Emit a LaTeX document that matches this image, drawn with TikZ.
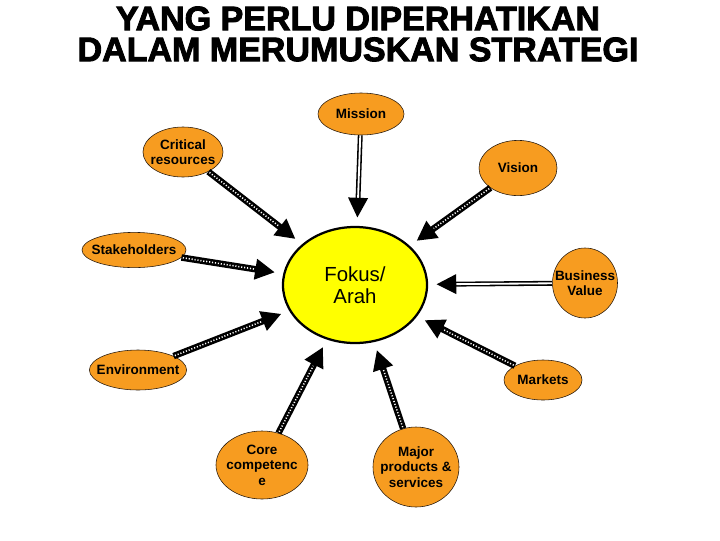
\documentclass[tikz,border=0pt]{standalone}
\usepackage{fontspec}
\setmainfont{Liberation Sans}
\newfontfamily\heavyfont{Liberation Sans Bold}[FakeBold=2.6]
\usepackage{tikz}
\usetikzlibrary{shapes.geometric,arrows.meta}
\definecolor{ellorange}{RGB}{247,156,32}
\definecolor{focusyellow}{RGB}{255,255,0}

\begin{document}
\begin{tikzpicture}[x=0.025cm, y=-0.025cm, font=\bfseries\fontsize{9.6}{11}\selectfont,
  every node/.style={ellipse, draw=black!80!brown, fill=ellorange, inner xsep=-5pt, inner ysep=0pt, align=center},
  >={Triangle[length=14pt,width=14pt]},
  dbl/.style={->, draw, shorten >=6pt, line width=1.1pt, double=white, double distance=1.3pt},
  hatch/.style={->, draw, shorten >=6pt, line width=4.6pt, postaction={draw=white, -, line width=1.1pt, dash pattern=on 0.8pt off 1.3pt, shorten >=21pt, shorten <=1pt}}]
\useasboundingbox (0,0) rectangle (720,540);
\node[draw=none, fill=none, rectangle, inner sep=0pt, font=\heavyfont\fontsize{24.2}{22}\selectfont] (title) at (358,34) {YANG PERLU DIPERHATIKAN\\DALAM MERUMUSKAN STRATEGI};
\node[fill=focusyellow, draw=black, line width=1.6pt, minimum width=3.6cm, minimum height=2.9cm, font=\fontsize{14.5}{15.5}\selectfont] (F) at (355,285) {Fokus/\\Arah};
\node[minimum width=2.15cm, minimum height=1.05cm] (M) at (361,114) {Mission};
\node[minimum width=2.0cm, minimum height=1.25cm] (CR) at (183,152) {Critical\\resources};
\node[minimum width=1.95cm, minimum height=1.38cm] (V) at (518,168) {Vision};
\node[minimum width=2.6cm, minimum height=0.88cm] (S) at (134,250) {Stakeholders};
\node[minimum width=1.62cm, minimum height=1.75cm] (BV) at (585,283) {Business\\Value};
\node[minimum width=2.43cm, minimum height=1.0cm] (E) at (138,370) {Environment};
\node[minimum width=1.95cm, minimum height=1.0cm] (MK) at (543,380) {Markets};
\node[minimum width=2.3cm, minimum height=1.7cm] (CC) at (262,465) {Core\\competenc\\e};
\node[minimum width=2.15cm, minimum height=2.0cm] (MP) at (416,467) {Major\\products \&\\services};
\draw[dbl] (M) -- (F); \draw[dbl] (BV) -- (F);
\draw[hatch] (CR) -- (F); \draw[hatch] (V) -- (F); \draw[hatch] (S) -- (F);
\draw[hatch] (E) -- (F); \draw[hatch] (MK) -- (F);
\draw[hatch] (CC) -- (F); \draw[hatch] (MP) -- (F);
\end{tikzpicture}
\end{document}
